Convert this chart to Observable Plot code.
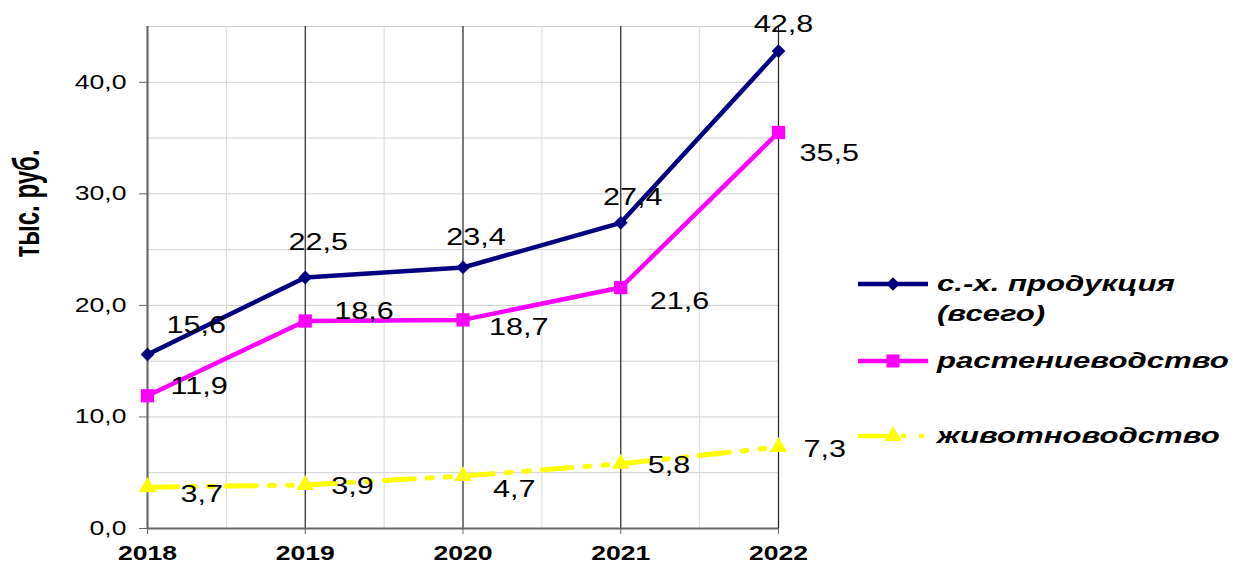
<!DOCTYPE html>
<html><head><meta charset="utf-8">
<script src="https://cdn.jsdelivr.net/npm/d3@7"></script>
<script src="https://cdn.jsdelivr.net/npm/@observablehq/plot@0.6"></script>
<style>
body{margin:0;background:#fff;font-family:"Liberation Sans",Arial,sans-serif}
#wrap{position:relative;width:1233px;height:565px;overflow:hidden}
#legend{position:absolute;left:845px;top:262px;width:388px;height:200px;background:#fff}
.sw{position:absolute;left:13px}
.lab{position:absolute;left:92px;font:italic bold 22px "Liberation Sans",Arial,sans-serif;transform:scaleX(1.415);transform-origin:0 50%;white-space:pre;line-height:30px;color:#000}
</style></head><body><div id="wrap"></div>
<script>
const years = [2018, 2019, 2020, 2021, 2022];
const total = [15.6, 22.5, 23.4, 27.4, 42.8];
const crop = [11.9, 18.6, 18.7, 21.6, 35.5];
const livestock = [3.7, 3.9, 4.7, 5.8, 7.3];
const seriesNames = ["с.-х. продукция (всего)", "растениеводство", "животноводство"];
const yTicks = [0, 10, 20, 30, 40];
const yGrid = [5, 10, 15, 20, 25, 30, 35, 40, 45];
const xHalf = [2018.5, 2019.5, 2020.5, 2021.5];
const yLabel = "тыс. руб.";

const fmt = v => v.toFixed(1).replace(".", ",");
const rows = vals => years.map((year, i) => ({year, value: vals[i], label: fmt(vals[i])}));
const totalRows = rows(total), cropRows = rows(crop), liveRows = rows(livestock);

// label offsets (style): [dx, dy, anchor]
const totalOff = [[19,-29,"start"],[13,-35,"middle"],[13,-30,"middle"],[12,-25,"middle"],[5,-26,"middle"]];
const cropOff = [[23,-9],[29,-9],[26,8],[29,14],[21,21]];
const liveOff = [[33,7],[26,2],[30,14],[27,2],[25,3]];

const NAVY = "#000080", MAG = "#ff00ff", YEL = "#ffff00";
const DASH = "30,13,5,13,5,13";
const labelMarks = (data, off) => data.map((d, i) => Plot.text([d], {
  x: "year", y: "value", text: "label", dx: off[i][0], dy: off[i][1],
  textAnchor: off[i][2] || "start", fontSize: 23, fill: "#000"
}));

const chart = Plot.plot({
  width: 1233, height: 565,
  marginLeft: 147, marginRight: 455, marginTop: 26, marginBottom: 37,
  x: {domain: [2018, 2022]},
  y: {domain: [0, 45]},
  style: {fontFamily: "Liberation Sans, Arial, sans-serif", fontSize: "20px", background: "#fff", overflow: "visible"},
  marks: [
    Plot.gridY(yGrid, {stroke: "#cfcfcf", strokeOpacity: 1}),
    Plot.gridX(xHalf, {stroke: "#dcdcdc", strokeOpacity: 1}),
    Plot.ruleX(years, {stroke: "#222", strokeWidth: 1.2}),
    Plot.ruleX([2018], {stroke: "#666", strokeWidth: 2}),
    Plot.ruleY([0], {stroke: "#666", strokeWidth: 2}),
    Plot.axisY(yTicks, {tickSize: 8, tickPadding: 13, tickFormat: fmt, fontSize: 20, stroke: "#666", label: null}),
    Plot.axisX(years, {tickSize: 6, tickPadding: 11, tickFormat: d => String(d), fontSize: 20, fontWeight: "bold", stroke: "#666", label: null}),
    Plot.line(liveRows, {x: "year", y: "value", stroke: YEL, strokeWidth: 5, strokeDasharray: DASH}),
    Plot.dot(liveRows, {x: "year", y: "value", symbol: "triangle", r: 6.5, fill: YEL}),
    Plot.line(cropRows, {x: "year", y: "value", stroke: MAG, strokeWidth: 4.5}),
    Plot.dot(cropRows, {x: "year", y: "value", symbol: "square", r: 7.5, fill: MAG}),
    Plot.line(totalRows, {x: "year", y: "value", stroke: NAVY, strokeWidth: 4.5}),
    Plot.dot(totalRows, {x: "year", y: "value", symbol: "diamond2", r: 6.2, fill: NAVY}),
    ...labelMarks(totalRows, totalOff),
    ...labelMarks(cropRows, cropOff),
    ...labelMarks(liveRows, liveOff),
    Plot.text([yLabel], {frameAnchor: "left", rotate: -90, dx: -120, dy: -20, fontWeight: "bold", fontSize: 24, fill: "#000"})
  ]
});

// horizontal stretch of glyphs (the reference is widened)
const S = 1.33;
chart.querySelectorAll("text").forEach(t => {
  const tr = t.getAttribute("transform") || "";
  if (tr.includes("rotate")) t.setAttribute("transform", tr.replace("rotate", `scale(1.55,1) rotate`));
  else {
    const x = parseFloat(t.getAttribute("x")) || 0;
    t.setAttribute("transform", `${tr} translate(${x},0) scale(${S},1) translate(${-x},0)`);
  }
});

const wrap = document.getElementById("wrap");
wrap.appendChild(chart);

// legend
const legend = document.createElement("div");
legend.id = "legend";
wrap.appendChild(legend);
const legendRows = [
  {name: seriesNames[0].replace(" (", "\n("), color: NAVY, sym: "diamond", cy: 22, dash: null},
  {name: seriesNames[1], color: MAG, sym: "square", cy: 99, dash: null},
  {name: seriesNames[2], color: YEL, sym: "triangle", cy: 174, dash: DASH}
];
legendRows.forEach(r => {
  const sw = d3.create("svg").attr("class", "sw").attr("width", 72).attr("height", 20)
    .style("top", (r.cy - 10) + "px");
  sw.append("line").attr("x1", 0).attr("x2", 70).attr("y1", 10).attr("y2", 10)
    .attr("stroke", r.color).attr("stroke-width", 4.5).attr("stroke-dasharray", r.dash);
  const type = r.sym === "diamond" ? d3.symbolDiamond2 : r.sym === "square" ? d3.symbolSquare : d3.symbolTriangle;
  const size = r.sym === "diamond" ? 120 : r.sym === "square" ? 170 : 130;
  sw.append("path").attr("transform", "translate(35,10)").attr("d", d3.symbol(type, size)()).attr("fill", r.color);
  legend.appendChild(sw.node());
  const lab = document.createElement("div");
  lab.className = "lab";
  lab.textContent = r.name;
  lab.style.top = (r.cy - 15) + "px";
  legend.appendChild(lab);
});
</script></body></html>
